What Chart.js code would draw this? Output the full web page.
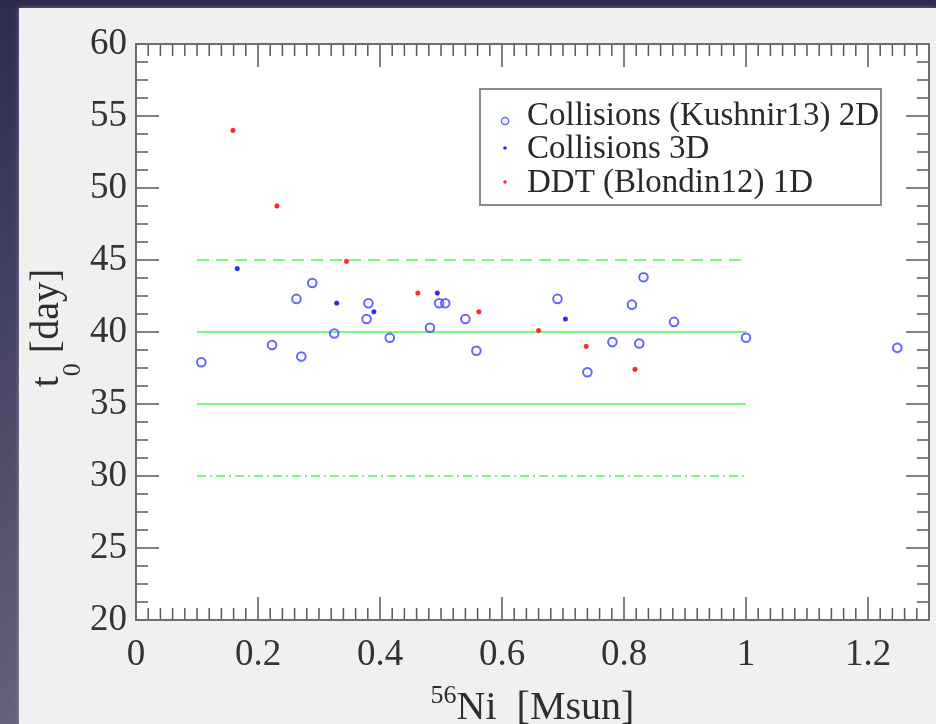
<!DOCTYPE html>
<html>
<head>
<meta charset="utf-8">
<script src="https://cdn.jsdelivr.net/npm/chart.js@4/dist/chart.umd.min.js"></script>
<style>
  html, body { margin: 0; padding: 0; background: #2e2d50; }
  #wrap { width: 936px; height: 724px; }
</style>
</head>
<body>
<div id="wrap"><canvas id="c" width="936" height="724"></canvas></div>
<script>
// ---- data ----
const xTickValues = [0, 0.2, 0.4, 0.6, 0.8, 1.0, 1.2];
const yTickValues = [20, 25, 30, 35, 40, 45, 50, 55, 60];
const seriesLabels = ['Collisions (Kushnir13) 2D', 'Collisions 3D', 'DDT (Blondin12) 1D'];

const coll2D_x = [0.107, 0.223, 0.263, 0.271, 0.289, 0.325, 0.378, 0.381, 0.416, 0.482, 0.497, 0.507, 0.540, 0.558, 0.691, 0.740, 0.781, 0.813, 0.825, 0.832, 0.882, 1.000, 1.248];
const coll2D_y = [37.9, 39.1, 42.3, 38.3, 43.4, 39.9, 40.9, 42.0, 39.6, 40.3, 42.0, 42.0, 40.9, 38.7, 42.3, 37.2, 39.3, 41.9, 39.2, 43.8, 40.7, 39.6, 38.9];

const coll3D_x = [0.166, 0.329, 0.390, 0.494, 0.704];
const coll3D_y = [44.4, 42.0, 41.4, 42.7, 40.9];

const ddt_x = [0.159, 0.231, 0.345, 0.462, 0.562, 0.660, 0.738, 0.818];
const ddt_y = [54.0, 48.75, 44.9, 42.7, 41.4, 40.1, 39.0, 37.4];

const refLevels = [45, 40, 35, 30];
const refXRange = [0.1, 1.0];

// ---- helpers ----
const pts = (xs, ys) => xs.map((x, i) => ({ x: x, y: ys[i] }));
const SERIF = '"Liberation Serif", "Times New Roman", "DejaVu Serif", serif';
const refDash = [[12, 7], [], [], [9, 4, 2, 4]];
const GREEN = 'rgba(118,245,118,0.95)';

const refDatasets = refLevels.map((lv, i) => ({
  type: 'line',
  label: 'ref' + lv,
  data: refXRange.map(x => ({ x: x, y: lv })),
  borderColor: GREEN,
  borderWidth: 2,
  borderDash: refDash[i],
  pointRadius: 0,
  fill: false,
  order: 5
}));

const markerStyles = [
  { radius: 4.3, bg: 'rgba(255,255,255,0)', border: 'rgba(75,75,255,0.85)', bw: 2 },
  { radius: 2.4, bg: 'rgba(30,30,255,0.95)', border: 'rgba(30,30,255,0.6)', bw: 0.5 },
  { radius: 2.4, bg: 'rgba(255,30,30,0.95)', border: 'rgba(255,30,30,0.6)', bw: 0.5 }
];

const decor = {
  id: 'decor',
  beforeDraw(chart) {
    const ctx = chart.ctx, W = chart.width, H = chart.height, a = chart.chartArea;
    ctx.save();
    const g = ctx.createLinearGradient(0, 0, 0, H);
    g.addColorStop(0, '#2d2c4e');
    g.addColorStop(1, '#63617b');
    ctx.fillStyle = g;
    ctx.fillRect(0, 0, W, H);
    ctx.shadowColor = 'rgba(255,255,255,0.35)';
    ctx.shadowBlur = 4;
    ctx.fillStyle = '#f0f0f0';
    ctx.fillRect(19, 8, W - 19, H - 8);
    ctx.shadowBlur = 0;
    ctx.fillStyle = '#ffffff';
    ctx.fillRect(a.left, a.top, a.right - a.left, a.bottom - a.top);
    ctx.restore();
  },
  afterDraw(chart) {
    const ctx = chart.ctx, a = chart.chartArea;
    const xs = chart.scales.x, ys = chart.scales.y;
    ctx.save();
    // tick marks (inward, all four sides)
    ctx.strokeStyle = '#5a5a5a';
    ctx.lineWidth = 1.5;
    ctx.beginPath();
    const xMin = xs.min, xMax = xs.max;
    for (let k = 0; ; k++) {
      const v = xMin + k * 0.02;
      if (v > xMax + 1e-9) break;
      const px = xs.getPixelForValue(v);
      const len = (k % 10 === 0) ? 23 : 12;
      ctx.moveTo(px, a.bottom); ctx.lineTo(px, a.bottom - len);
      ctx.moveTo(px, a.top); ctx.lineTo(px, a.top + len);
    }
    const yMin = ys.min, yMax = ys.max;
    for (let k = 0; ; k++) {
      const v = yMin + k * 1.25;
      if (v > yMax + 1e-9) break;
      const py = ys.getPixelForValue(v);
      const len = (k % 4 === 0) ? 23 : 12;
      ctx.moveTo(a.left, py); ctx.lineTo(a.left + len, py);
      ctx.moveTo(a.right, py); ctx.lineTo(a.right - len, py);
    }
    ctx.stroke();
    // frame
    ctx.strokeStyle = '#6e6e6e';
    ctx.lineWidth = 2;
    ctx.strokeRect(a.left, a.top, a.right - a.left, a.bottom - a.top);

    // legend
    const lx = 480, ly = 89, lw = 401, lh = 116;
    ctx.fillStyle = '#ffffff';
    ctx.fillRect(lx, ly, lw, lh);
    ctx.strokeStyle = '#8a8a8a';
    ctx.lineWidth = 2;
    ctx.strokeRect(lx, ly, lw, lh);
    ctx.font = '33px ' + SERIF;
    ctx.textBaseline = 'alphabetic';
    ctx.textAlign = 'left';
    const baselines = [125, 158, 192];
    seriesLabels.forEach((lab, i) => {
      const m = markerStyles[i];
      const my = baselines[i] - (i === 0 ? 4 : 10);
      ctx.beginPath();
      ctx.arc(505, my, i === 0 ? 3.5 : 1.8, 0, Math.PI * 2);
      if (i === 0) { ctx.strokeStyle = m.border; ctx.lineWidth = 1.5; ctx.stroke(); }
      else { ctx.fillStyle = m.bg; ctx.fill(); }
      ctx.fillStyle = '#2a2a2a';
      ctx.fillText(lab, 527, baselines[i]);
    });

    // axis titles with super/subscripts
    ctx.fillStyle = '#2e2e2e';
    // x title: 56Ni  [Msun]
    const bigX = '40px ' + SERIF, supF = '26px ' + SERIF;
    ctx.font = supF; const wSup = ctx.measureText('56').width;
    ctx.font = bigX; const wMain = ctx.measureText('Ni  [Msun]').width;
    const cx = (a.left + a.right) / 2;
    let sx = cx - (wSup + wMain) / 2;
    ctx.font = supF; ctx.fillText('56', sx, 703);
    ctx.font = bigX; ctx.fillText('Ni  [Msun]', sx + wSup, 719);
    // y title: t0 [day] rotated
    ctx.translate(58, (a.top + a.bottom) / 2 - 4);
    ctx.rotate(-Math.PI / 2);
    ctx.font = bigX; const wt = ctx.measureText('t').width;
    ctx.font = supF; const w0 = ctx.measureText('0').width;
    ctx.font = bigX; const wd = ctx.measureText(' [day]').width;
    let tx = -(wt + w0 + wd) / 2;
    ctx.font = bigX; ctx.fillText('t', tx, 0);
    ctx.font = supF; ctx.fillText('0', tx + wt, 22);
    ctx.font = bigX; ctx.fillText(' [day]', tx + wt + w0, 0);
    ctx.restore();
  }
};

const scatterSets = [
  pts(coll2D_x, coll2D_y),
  pts(coll3D_x, coll3D_y),
  pts(ddt_x, ddt_y)
].map((d, i) => ({
  type: 'scatter',
  label: seriesLabels[i],
  data: d,
  pointRadius: markerStyles[i].radius,
  pointBackgroundColor: markerStyles[i].bg,
  pointBorderColor: markerStyles[i].border,
  pointBorderWidth: markerStyles[i].bw,
  order: i === 0 ? 3 : 1
}));

new Chart(document.getElementById('c'), {
  type: 'scatter',
  data: { datasets: refDatasets.concat(scatterSets) },
  options: {
    responsive: false,
    animation: false,
    devicePixelRatio: 1,
    layout: { padding: { left: 0, top: 44, right: 7, bottom: 0 } },
    plugins: { legend: { display: false }, tooltip: { enabled: false } },
    scales: {
      x: {
        type: 'linear', min: 0, max: 1.3,
        grid: { display: false, drawTicks: false, tickLength: 0 }, border: { display: false },
        afterBuildTicks: s => { s.ticks = xTickValues.map(v => ({ value: v })); },
        afterFit: s => { s.height = 104; },
        ticks: {
          font: { family: SERIF, size: 37 }, color: '#333333', padding: 13,
          maxRotation: 0, autoSkip: false,
          callback: v => String(Math.round(v * 10) / 10)
        }
      },
      y: {
        type: 'linear', min: 20, max: 60,
        grid: { display: false, drawTicks: false, tickLength: 0 }, border: { display: false },
        afterBuildTicks: s => { s.ticks = yTickValues.map(v => ({ value: v })); },
        afterFit: s => { s.width = 136; },
        ticks: {
          font: { family: SERIF, size: 37 }, color: '#333333', padding: 9,
          autoSkip: false,
          callback: v => String(v)
        }
      }
    }
  },
  plugins: [decor]
});
</script>
</body>
</html>
